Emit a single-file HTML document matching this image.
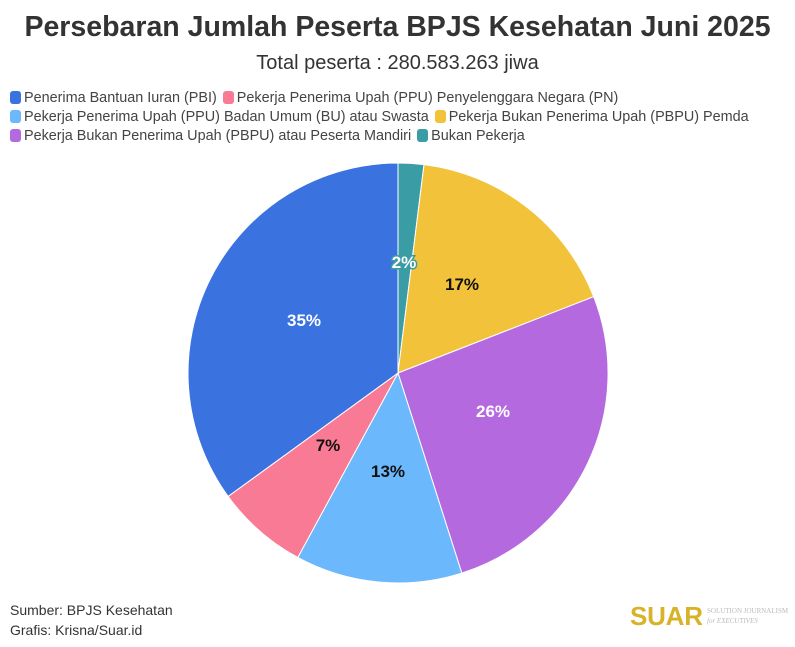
<!DOCTYPE html><html><head><style>
body{margin:0;width:795px;height:647px;background:#fff;font-family:"Liberation Sans",sans-serif;position:relative;overflow:hidden}
.t{position:absolute;left:0;width:795px;text-align:center;color:#333}
.lg{position:absolute;left:10px;font-size:14.4px;color:#444;white-space:nowrap}
.sw{display:inline-block;width:11px;height:13px;border-radius:3px;vertical-align:-2px;margin-right:3px}
.it{margin-right:6px}
</style></head><body>
<div class="t" style="top:11px;font-size:28.5px;font-weight:bold;color:#333">Persebaran Jumlah Peserta BPJS Kesehatan Juni 2025</div>
<div class="t" style="top:52px;font-size:20px;color:#333">Total peserta : 280.583.263 jiwa</div>
<div class="lg" style="top:90px"><span class="it"><span class="sw" style="background:#3a72e0"></span>Penerima Bantuan Iuran (PBI)</span><span class="it"><span class="sw" style="background:#f97a94"></span>Pekerja Penerima Upah (PPU) Penyelenggara Negara (PN)</span></div>
<div class="lg" style="top:109px"><span class="it"><span class="sw" style="background:#6cb8fc"></span>Pekerja Penerima Upah (PPU) Badan Umum (BU) atau Swasta</span><span class="it"><span class="sw" style="background:#f2c33a"></span>Pekerja Bukan Penerima Upah (PBPU) Pemda</span></div>
<div class="lg" style="top:128px"><span class="it"><span class="sw" style="background:#b46ade"></span>Pekerja Bukan Penerima Upah (PBPU) atau Peserta Mandiri</span><span class="it"><span class="sw" style="background:#3a9ca4"></span>Bukan Pekerja</span></div>
<svg style="position:absolute;left:0;top:0" width="795" height="647">
<g stroke="#fff" stroke-width="1">
<path d="M398 373L398 163A210 210 0 0 1 424 164.6Z" fill="#3a9ca4"/>
<path d="M398 373L424 164.6A210 210 0 0 1 593.7 296.7Z" fill="#f2c33a"/>
<path d="M398 373L593.7 296.7A210 210 0 0 1 461.8 573.1Z" fill="#b46ade"/>
<path d="M398 373L461.8 573.1A210 210 0 0 1 297.8 557.5Z" fill="#6cb8fc"/>
<path d="M398 373L297.8 557.5A210 210 0 0 1 228.1 496.4Z" fill="#f97a94"/>
<path d="M398 373L228.1 496.4A210 210 0 0 1 398 163Z" fill="#3a72e0"/>
</g>
<g font-family="Liberation Sans" font-weight="bold" font-size="17" text-anchor="middle">
<text x="404" y="268" fill="#fff" stroke="#3a9ca4" stroke-width="3" paint-order="stroke">2%</text>
<text x="462" y="290" fill="#111">17%</text>
<text x="493" y="417" fill="#fff">26%</text>
<text x="388" y="477" fill="#111">13%</text>
<text x="328" y="451" fill="#111">7%</text>
<text x="304" y="326" fill="#fff">35%</text>
</g>
<text x="630" y="625" font-family="Liberation Sans" font-weight="bold" font-size="26" fill="#d8b32a" textLength="73">SUAR</text>
<text x="707" y="613" font-family="Liberation Serif" font-size="7" fill="#bbb">SOLUTION JOURNALISM</text>
<text x="707" y="623" font-family="Liberation Serif" font-size="7" fill="#bbb" font-style="italic">for EXECUTIVES</text>
</svg>
<div style="position:absolute;left:10px;top:600px;font-size:14px;color:#333;line-height:20px">Sumber: BPJS Kesehatan<br>Grafis: Krisna/Suar.id</div>
</body></html>
